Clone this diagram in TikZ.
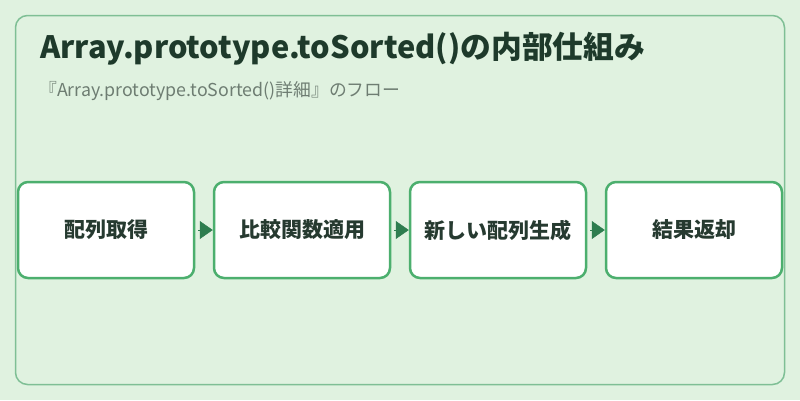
\documentclass[tikz,border=0pt]{standalone}
\usepackage{fontspec}
\setmainfont{Noto Sans CJK JP}
\usetikzlibrary{arrows.meta}
\definecolor{bg}{HTML}{E0F2E0}
\definecolor{frame}{HTML}{7FBF95}
\definecolor{boxline}{HTML}{4CAF6E}
\definecolor{arrowc}{HTML}{2E7D4F}
\definecolor{titlec}{HTML}{1E3A2B}
\definecolor{subc}{HTML}{6E7D72}
\definecolor{textc}{HTML}{263A30}
\tikzset{
  stepbox/.style={draw=boxline, line width=2.5pt, fill=white, rounded corners=10pt,
    minimum width=176pt, minimum height=96pt, inner sep=0pt,
    font=\fontsize{21pt}{25pt}\selectfont\bfseries, text=textc},
  flow/.style={arrowc, line width=0.5pt, shorten <=3pt,
    -{Triangle[length=13pt,width=18pt]}}
}
\begin{document}
\begin{tikzpicture}[x=1pt,y=-1pt]
\useasboundingbox (0,0) rectangle (800,400);
\fill[bg] (0,0) rectangle (800,400);
\draw[frame, line width=1.5pt, rounded corners=12pt] (15.5,15.5) rectangle (784.5,384.5);
\node[anchor=base west, inner sep=0pt, text=titlec, font=\fontsize{30.8pt}{36pt}\selectfont\bfseries] (title) at (40,58) {Array.prototype.toSorted()の内部仕組み};
\node[anchor=base west, inner sep=0pt, text=subc, font=\fontsize{17.8pt}{21pt}\selectfont] (sub) at (39,96) {『Array.prototype.toSorted()詳細』のフロー};
\node[stepbox] (s1) at (106,230) {配列取得};
\node[stepbox] (s2) at (302,230) {比較関数適用};
\node[stepbox] (s3) at (498,230) {新しい配列生成};
\node[stepbox] (s4) at (694,230) {結果返却};
\draw[flow] (s1.east) -- (s2.west);
\draw[flow] (s2.east) -- (s3.west);
\draw[flow] (s3.east) -- (s4.west);
\end{tikzpicture}
\end{document}
